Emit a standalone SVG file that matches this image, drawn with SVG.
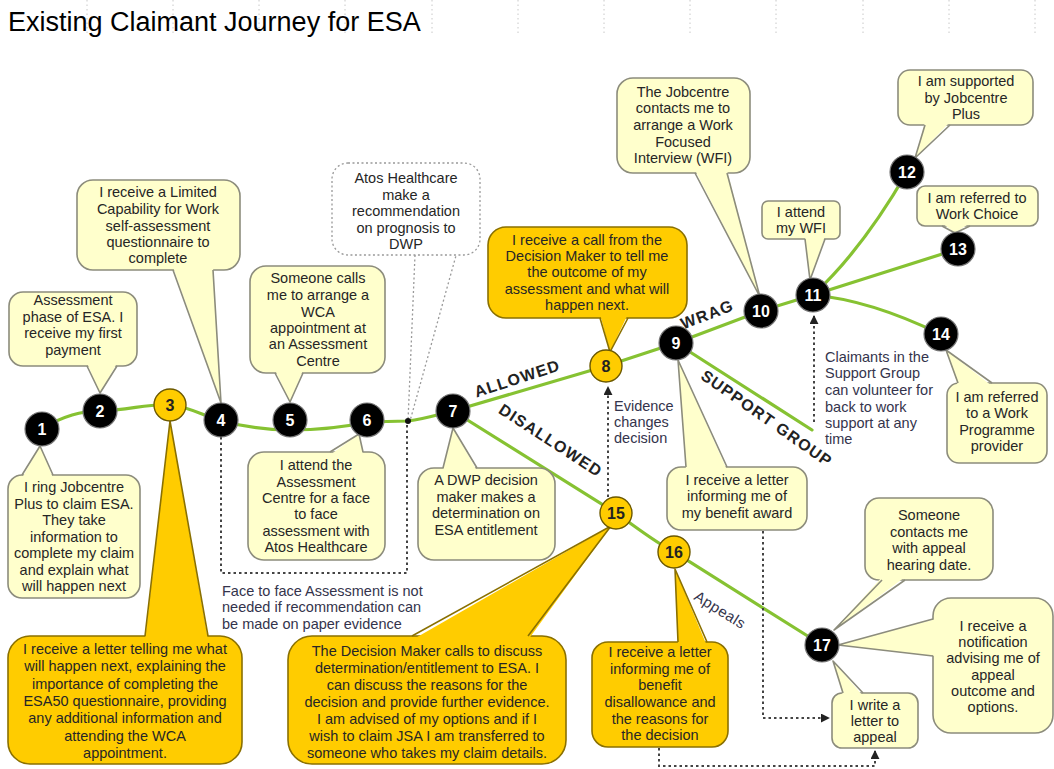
<svg xmlns="http://www.w3.org/2000/svg" width="1054" height="769" viewBox="0 0 1054 769">
<style>
.t{font-family:"Liberation Sans",Arial,sans-serif;font-size:14.5px;fill:#262626;text-anchor:middle}
.tl{font-family:"Liberation Sans",Arial,sans-serif;font-size:14.5px;fill:#34344c}
.lb{fill:#FFFFCC;stroke:#8c8c7c;stroke-width:1.6}
.lbf{fill:#FFFFCC}
.ob{fill:#FFCC00;stroke:#8a7000;stroke-width:1.6}
.obf{fill:#FFCC00}
.ls{fill:none;stroke:#8c8c7c;stroke-width:1.6;stroke-linejoin:round}
.os{fill:none;stroke:#8a7000;stroke-width:1.6;stroke-linejoin:round}
.g{fill:none;stroke:#86C232;stroke-width:3.2;stroke-linecap:round}
.d{fill:none;stroke:#444;stroke-width:2;stroke-dasharray:2.5 3}
.dg{fill:none;stroke:#999;stroke-width:1.3;stroke-dasharray:2 2.5}
.nb{fill:#000;stroke:#777;stroke-width:1.2}
.ny{fill:#FFCC00;stroke:#6b5800;stroke-width:1.4}
.nt{font-family:"Liberation Sans",Arial,sans-serif;font-size:16px;font-weight:bold;fill:#fff;text-anchor:middle}
.nty{font-family:"Liberation Sans",Arial,sans-serif;font-size:16px;font-weight:bold;fill:#222;text-anchor:middle}
.lab{font-family:"Liberation Sans",Arial,sans-serif;font-size:16px;font-weight:bold;fill:#222;text-anchor:middle;letter-spacing:1.2px}
.grid{stroke:#c8c8c8;stroke-width:1;stroke-dasharray:1.5 3}
</style>
<defs>
<marker id="ah" viewBox="0 0 10 10" refX="9" refY="5" markerWidth="4.5" markerHeight="4.5" orient="auto">
<path d="M0,0 L10,5 L0,10 z" fill="#222"/>
</marker>
</defs>
<rect width="1054" height="769" fill="#fff"/>
<g id="grid">
<line class="grid" x1="87" y1="0" x2="87" y2="36"/>
<line class="grid" x1="173" y1="0" x2="173" y2="36"/>
<line class="grid" x1="259" y1="0" x2="259" y2="36"/>
<line class="grid" x1="345" y1="0" x2="345" y2="36"/>
<line class="grid" x1="432" y1="0" x2="432" y2="36"/>
<line class="grid" x1="518" y1="0" x2="518" y2="36"/>
<line class="grid" x1="604" y1="0" x2="604" y2="36"/>
<line class="grid" x1="690" y1="0" x2="690" y2="36"/>
<line class="grid" x1="776" y1="0" x2="776" y2="36"/>
<line class="grid" x1="863" y1="0" x2="863" y2="36"/>
<line class="grid" x1="949" y1="0" x2="949" y2="36"/>
<line class="grid" x1="1035" y1="0" x2="1035" y2="36"/>
</g>
<text x="8" y="31" font-family="'Liberation Sans',Arial,sans-serif" font-size="27" fill="#000">Existing Claimant Journey for ESA</text>

<g id="connectors">
<path class="g" d="M42,428 C65,416 80,411 100,411 C130,410 150,403 170,405 C192,407 205,417 221,421 C245,427 265,430 290,430 C320,430 345,427 367,422 L408,421 C425,419 440,414 453,411"/>
<path class="g" d="M453,411 L606,366 L676,343 L761,311 L813,295"/>
<path class="g" d="M453,411 L616,513 C640,530 655,542 674,552 L822,645"/>
<path class="g" d="M676,343 L812,430"/>
<path class="g" d="M813,295 Q862,250 907,172"/>
<path class="g" d="M813,295 L958,249"/>
<path class="g" d="M813,295 Q870,300 940,334"/>
<path class="d" d="M221,437 L221,573 L407,573 L407,421"/>
<path class="dg" d="M415,255 L408,421"/>
<path class="dg" d="M457,252 L410,421"/>
<circle cx="408" cy="421" r="3" fill="#111"/>
<path class="d" d="M608,497 L608,387" marker-end="url(#ah)"/>
<path class="d" d="M814,422 L814,316" marker-end="url(#ah)"/>
<path class="d" d="M763,531 L763,718 L829,718" marker-end="url(#ah)"/>
<path class="d" d="M659,748 L659,766 L875,766 L875,751" marker-end="url(#ah)"/>
<text class="lab" transform="translate(517,378) rotate(-18)" y="6">ALLOWED</text>
<text class="lab" transform="translate(551,440) rotate(33)" y="6">DISALLOWED</text>
<text class="lab" transform="translate(707,314) rotate(-21)" y="6">WRAG</text>
<text class="lab" transform="translate(767,418) rotate(35)" y="6">SUPPORT GROUP</text>
<text transform="translate(720,610) rotate(32)" y="5" font-family="'Liberation Sans',Arial,sans-serif" font-size="15" fill="#34344c" text-anchor="middle" letter-spacing="0.5">Appeals</text>
</g>

<g id="note-evidence">
<text class="tl" x="614" y="411">Evidence</text>
<text class="tl" x="614" y="427">changes</text>
<text class="tl" x="614" y="443">decision</text>
</g>
<g id="note-support">
<text class="tl" x="825" y="362">Claimants in the</text>
<text class="tl" x="825" y="378">Support Group</text>
<text class="tl" x="825" y="395">can volunteer for</text>
<text class="tl" x="825" y="412">back to work</text>
<text class="tl" x="825" y="428">support at any</text>
<text class="tl" x="825" y="444">time</text>
</g>
<g id="note-face">
<text class="tl" x="222" y="596">Face to face Assessment is not</text>
<text class="tl" x="222" y="612">needed if recommendation can</text>
<text class="tl" x="222" y="629">be made on paper evidence</text>
</g>

<g id="b1">
<rect class="lb" x="8" y="475" width="132" height="123" rx="14"/>
<polygon class="lbf" points="22,478 40,446 53,478"/>
<polyline class="ls" points="22,475 40,446 53,475"/>
<text class="t" x="74" y="492">I ring Jobcentre</text>
<text class="t" x="74" y="508.5">Plus to claim ESA.</text>
<text class="t" x="74" y="525">They take</text>
<text class="t" x="74" y="541.5">information to</text>
<text class="t" x="74" y="558">complete my claim</text>
<text class="t" x="74" y="574.5">and explain what</text>
<text class="t" x="74" y="591">will happen next</text>
</g>
<g id="b2">
<rect class="lb" x="9" y="292" width="128" height="74" rx="14"/>
<polygon class="lbf" points="87,363 100,393 117,363"/>
<polyline class="ls" points="87,366 100,393 117,366"/>
<text class="t" x="73" y="305">Assessment</text>
<text class="t" x="73" y="322">phase of ESA. I</text>
<text class="t" x="73" y="338">receive my first</text>
<text class="t" x="73" y="355">payment</text>
</g>
<g id="b4">
<rect class="lb" x="77" y="180" width="163" height="90" rx="16"/>
<polygon class="lbf" points="173,267 221,403 213,267"/>
<polyline class="ls" points="173,270 221,403 213,270"/>
<text class="t" x="158" y="197">I receive a Limited</text>
<text class="t" x="158" y="214">Capability for Work</text>
<text class="t" x="158" y="231">self-assessment</text>
<text class="t" x="158" y="247">questionnaire to</text>
<text class="t" x="158" y="263">complete</text>
</g>
<g id="b5">
<rect class="lb" x="250" y="266" width="135" height="107" rx="16"/>
<polygon class="lbf" points="275,370 290,402 303,370"/>
<polyline class="ls" points="275,373 290,402 303,373"/>
<text class="t" x="318" y="283">Someone calls</text>
<text class="t" x="318" y="300">me to arrange a</text>
<text class="t" x="318" y="317">WCA</text>
<text class="t" x="318" y="333">appointment at</text>
<text class="t" x="318" y="349">an Assessment</text>
<text class="t" x="318" y="366">Centre</text>
</g>
<g id="atos">
<rect x="332" y="163" width="148" height="92" rx="16" fill="#fff" stroke="#999" stroke-width="1.3" stroke-dasharray="2 2.5"/>
<text class="t" x="406" y="183">Atos Healthcare</text>
<text class="t" x="406" y="199.5">make a</text>
<text class="t" x="406" y="216">recommendation</text>
<text class="t" x="406" y="232.5">on prognosis to</text>
<text class="t" x="406" y="249">DWP</text>
</g>
<g id="b6">
<rect class="lb" x="248" y="452" width="137" height="108" rx="16"/>
<polygon class="lbf" points="330,455 359,434 363,455"/>
<polyline class="ls" points="330,452 359,434 363,452"/>
<text class="t" x="316" y="470">I attend the</text>
<text class="t" x="316" y="487">Assessment</text>
<text class="t" x="316" y="503">Centre for a face</text>
<text class="t" x="316" y="519">to face</text>
<text class="t" x="316" y="536">assessment with</text>
<text class="t" x="316" y="552">Atos Healthcare</text>
</g>
<g id="b7">
<rect class="lb" x="418" y="468" width="137" height="92" rx="16"/>
<polygon class="lbf" points="443,471 453,428 477,471"/>
<polyline class="ls" points="443,468 453,428 477,468"/>
<text class="t" x="486" y="485">A DWP decision</text>
<text class="t" x="486" y="502">maker makes a</text>
<text class="t" x="486" y="518">determination on</text>
<text class="t" x="486" y="535">ESA entitlement</text>
</g>
<g id="b3">
<rect class="ob" x="8" y="636" width="234" height="128" rx="22"/>
<polygon class="obf" points="145,640 170,421 208,640"/>
<polyline class="os" points="145,636 170,421 208,636"/>
<text class="t" x="125" y="654">I receive a letter telling me what</text>
<text class="t" x="125" y="671">will happen next, explaining the</text>
<text class="t" x="125" y="688.5">importance of completing the</text>
<text class="t" x="125" y="706">ESA50 questionnaire, providing</text>
<text class="t" x="125" y="723">any additional information and</text>
<text class="t" x="125" y="740.5">attending the WCA</text>
<text class="t" x="125" y="758">appointment.</text>
</g>
<g id="b15">
<rect class="ob" x="288" y="636" width="278" height="128" rx="24"/>
<polygon class="obf" points="412,640 611,526 528,640"/>
<polyline class="os" points="412,636 611,526 528,636"/>
<text class="t" x="427" y="656">The Decision Maker calls to discuss</text>
<text class="t" x="427" y="673">determination/entitlement to ESA.  I</text>
<text class="t" x="427" y="690">can discuss the reasons for the</text>
<text class="t" x="427" y="707">decision and provide further evidence.</text>
<text class="t" x="427" y="724">I am advised of my options and if I</text>
<text class="t" x="427" y="741">wish to claim JSA I am transferred to</text>
<text class="t" x="427" y="758">someone who takes my claim details.</text>
</g>
<g id="b8">
<rect class="ob" x="488" y="227" width="199" height="91" rx="18"/>
<polygon class="obf" points="600,314 610,352 628,314"/>
<polyline class="os" points="600,318 610,352 628,318"/>
<text class="t" x="587" y="245">I receive a call from the</text>
<text class="t" x="587" y="261">Decision Maker to tell me</text>
<text class="t" x="587" y="277">the outcome of my</text>
<text class="t" x="587" y="294">assessment and what will</text>
<text class="t" x="587" y="310">happen next.</text>
</g>
<g id="b10">
<rect class="lb" x="617" y="78" width="133" height="95" rx="16"/>
<polygon class="lbf" points="695,170 760,297 727,170"/>
<polyline class="ls" points="695,173 760,297 727,173"/>
<text class="t" x="683" y="97">The Jobcentre</text>
<text class="t" x="683" y="113">contacts me to</text>
<text class="t" x="683" y="130">arrange a Work</text>
<text class="t" x="683" y="147">Focused</text>
<text class="t" x="683" y="163">Interview (WFI)</text>
</g>
<g id="b11">
<rect class="lb" x="762" y="201" width="78" height="38" rx="6"/>
<polygon class="lbf" points="805,236 810,280 825,236"/>
<polyline class="ls" points="805,239 810,280 825,239"/>
<text class="t" x="801" y="217">I attend</text>
<text class="t" x="801" y="233">my WFI</text>
</g>
<g id="b12">
<rect class="lb" x="898" y="70" width="135" height="55" rx="12"/>
<polygon class="lbf" points="925,122 915,158 950,122"/>
<polyline class="ls" points="925,125 915,158 950,125"/>
<text class="t" x="966" y="86">I am supported</text>
<text class="t" x="966" y="103">by Jobcentre</text>
<text class="t" x="966" y="119">Plus</text>
</g>
<g id="b13">
<rect class="lb" x="917" y="186" width="121" height="40" rx="8"/>
<polygon class="lbf" points="942,223 955,233 970,223"/>
<polyline class="ls" points="942,226 955,233 970,226"/>
<text class="t" x="977" y="203">I am referred to</text>
<text class="t" x="977" y="219">Work Choice</text>
</g>
<g id="b14">
<rect class="lb" x="947" y="383" width="100" height="80" rx="12"/>
<polygon class="lbf" points="958,386 946,350 992,386"/>
<polyline class="ls" points="958,383 946,350 992,383"/>
<text class="t" x="997" y="402">I am referred</text>
<text class="t" x="997" y="418">to a Work</text>
<text class="t" x="997" y="435">Programme</text>
<text class="t" x="997" y="451">provider</text>
</g>
<g id="b9">
<rect class="lb" x="667" y="467" width="140" height="63" rx="14"/>
<polygon class="lbf" points="686,470 678,360 727,470"/>
<polyline class="ls" points="686,467 678,360 727,467"/>
<text class="t" x="737" y="485">I receive a letter</text>
<text class="t" x="737" y="501">informing me of</text>
<text class="t" x="737" y="518">my benefit award</text>
</g>
<g id="b16">
<rect class="ob" x="592" y="642" width="136" height="105" rx="16"/>
<polygon class="obf" points="678,646 675,569 707,646"/>
<polyline class="os" points="678,642 675,569 707,642"/>
<text class="t" x="660" y="657">I receive a letter</text>
<text class="t" x="660" y="674">informing me of</text>
<text class="t" x="660" y="690">benefit</text>
<text class="t" x="660" y="707">disallowance and</text>
<text class="t" x="660" y="724">the reasons for</text>
<text class="t" x="660" y="740">the decision</text>
</g>
<g id="b17write">
<rect class="lb" x="832" y="693" width="86" height="55" rx="10"/>
<polygon class="lbf" points="843,696 833,661 863,696"/>
<polyline class="ls" points="843,693 833,661 863,693"/>
<text class="t" x="875" y="710">I write a</text>
<text class="t" x="875" y="726">letter to</text>
<text class="t" x="875" y="742">appeal</text>
</g>
<g id="b17hearing">
<rect class="lb" x="865" y="498" width="128" height="82" rx="14"/>
<polygon class="lbf" points="882,577 834,630 905,577"/>
<polyline class="ls" points="882,580 834,630 905,580"/>
<text class="t" x="929" y="520">Someone</text>
<text class="t" x="929" y="537">contacts me</text>
<text class="t" x="929" y="553">with appeal</text>
<text class="t" x="929" y="570">hearing date.</text>
</g>
<g id="b17outcome">
<rect class="lb" x="933" y="598" width="120" height="135" rx="18"/>
<polygon class="lbf" points="936,619 838,645 936,656"/>
<polyline class="ls" points="933,619 838,645 933,656"/>
<text class="t" x="993" y="631">I receive a</text>
<text class="t" x="993" y="647">notification</text>
<text class="t" x="993" y="663">advising me of</text>
<text class="t" x="993" y="680">appeal</text>
<text class="t" x="993" y="696">outcome and</text>
<text class="t" x="993" y="712">options.</text>
</g>

<g id="n1"><circle class="nb" cx="42" cy="429" r="17"/><text class="nt" x="42" y="435">1</text></g>
<g id="n2"><circle class="nb" cx="100" cy="411" r="17"/><text class="nt" x="100" y="417">2</text></g>
<g id="n3"><circle class="ny" cx="170" cy="405" r="16"/><text class="nty" x="170" y="411">3</text></g>
<g id="n4"><circle class="nb" cx="221" cy="420" r="17"/><text class="nt" x="221" y="426">4</text></g>
<g id="n5"><circle class="nb" cx="290" cy="420" r="17"/><text class="nt" x="290" y="426">5</text></g>
<g id="n6"><circle class="nb" cx="367" cy="420" r="17"/><text class="nt" x="367" y="426">6</text></g>
<g id="n7"><circle class="nb" cx="453" cy="411" r="17"/><text class="nt" x="453" y="417">7</text></g>
<g id="n8"><circle class="ny" cx="606" cy="366" r="16"/><text class="nty" x="606" y="372">8</text></g>
<g id="n9"><circle class="nb" cx="676" cy="343" r="17"/><text class="nt" x="676" y="349">9</text></g>
<g id="n10"><circle class="nb" cx="761" cy="311" r="17"/><text class="nt" x="761" y="317">10</text></g>
<g id="n11"><circle class="nb" cx="813" cy="295" r="17"/><text class="nt" x="813" y="301">11</text></g>
<g id="n12"><circle class="nb" cx="907" cy="172" r="17"/><text class="nt" x="907" y="178">12</text></g>
<g id="n13"><circle class="nb" cx="958" cy="249" r="17"/><text class="nt" x="958" y="255">13</text></g>
<g id="n14"><circle class="nb" cx="941" cy="334" r="17"/><text class="nt" x="941" y="340">14</text></g>
<g id="n15"><circle class="ny" cx="616" cy="513" r="16"/><text class="nty" x="616" y="519">15</text></g>
<g id="n16"><circle class="ny" cx="674" cy="552" r="16"/><text class="nty" x="674" y="558">16</text></g>
<g id="n17"><circle class="nb" cx="822" cy="645" r="17"/><text class="nt" x="822" y="651">17</text></g>
</svg>
